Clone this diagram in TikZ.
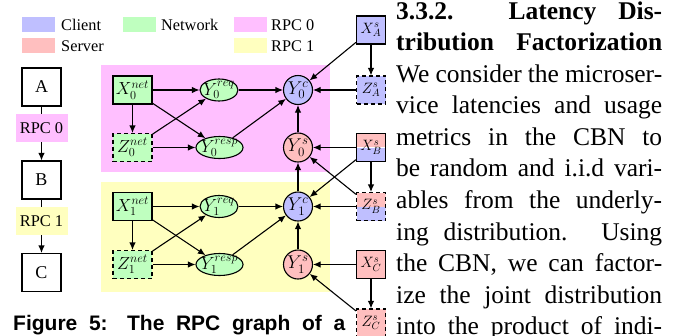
\RequirePackage{fix-cm}
\documentclass[tikz,border=0pt]{standalone}
\usepackage{fontspec}
\setmainfont{Liberation Serif}
\newfontfamily\capfont{Liberation Sans}
\usetikzlibrary{shapes.geometric,arrows.meta}
\definecolor{clicol}{HTML}{BFBFFF}
\definecolor{srvcol}{HTML}{FFBFBF}
\definecolor{netcol}{HTML}{BFFFBF}
\definecolor{rpczero}{HTML}{FFBFFF}
\definecolor{rpcone}{HTML}{FFFFBF}
\newcommand{\myfs}[1]{\fontsize{#1}{#1}\selectfont}
\begin{document}
\begin{tikzpicture}[x=1pt,y=-1pt,
  ln/.style={line width=1.1pt},
  edge/.style={ln, -{Latex[length=7.5pt,width=6.5pt]}},
  shp/.style={draw, ln, inner sep=0pt},
  mlabel/.style={font=\myfs{17.5}, inner sep=0pt},
  clabel/.style={font=\myfs{18.5}, inner sep=0pt},
  slabel/.style={font=\myfs{15}, inner sep=0pt},
  dsh/.style={dash pattern=on 4pt off 3pt},
  netbox/.style={shp, fill=netcol, minimum width=39pt, minimum height=28pt},
  ellnode/.style={shp, ellipse, fill=netcol, minimum height=22pt},
  circnode/.style={shp, circle, minimum size=29pt},
  sbox/.style={shp, minimum width=29pt, minimum height=28pt},
  chainbox/.style={shp, fill=white, minimum width=39pt, minimum height=38pt, font=\myfs{18}},
  rpclabel/.style={inner sep=0pt, minimum width=52pt, minimum height=28pt, font=\myfs{16.4}},
  swatch/.style={inner sep=0pt, minimum width=33pt, minimum height=15pt},
  legtext/.style={anchor=base west, inner sep=0pt, font=\myfs{16.3}},
  bodyline/.style={anchor=base west, inner sep=0pt, font=\myfs{25.5}},
  splitfill/.style={path picture={
    \fill[srvcol] (path picture bounding box.north west) rectangle (path picture bounding box.east);
    \fill[clicol] (path picture bounding box.west) rectangle (path picture bounding box.south east);}},
  splitline/.style={path picture={
    \fill[srvcol] (path picture bounding box.north west) rectangle (path picture bounding box.east);
    \fill[clicol] (path picture bounding box.west) rectangle (path picture bounding box.south east);
    \draw[white, line width=0.9pt] (path picture bounding box.west) -- (path picture bounding box.east);}}
]
\useasboundingbox (0,0) rectangle (688,335);

% legend
\node[swatch, fill=clicol] (lg1) at (38.5,24.5) {};
\node[legtext] (lg1t) at (61,30) {Client};
\node[swatch, fill=srvcol] (lg2) at (38.5,45.5) {};
\node[legtext] (lg2t) at (61,51) {Server};
\node[swatch, fill=netcol] (lg3) at (139.5,24.5) {};
\node[legtext] (lg3t) at (161,30) {Network};
\node[swatch, fill=rpczero] (lg4) at (250.5,24.5) {};
\node[legtext] (lg4t) at (271,30) {RPC 0};
\node[swatch, fill=rpcone] (lg5) at (250.5,45.5) {};
\node[legtext] (lg5t) at (271,51) {RPC 1};

% RPC chain
\node[chainbox] (A) at (41.5,87) {A};
\node[chainbox] (B) at (41.5,180) {B};
\node[chainbox] (C) at (41.5,272.5) {C};
\draw[edge] (A) -- node[pos=0.4, rpclabel, fill=rpczero] (rl0) {RPC 0} (B);
\draw[edge] (B) -- node[pos=0.4, rpclabel, fill=rpcone] (rl1) {RPC 1} (C);

% regions
\fill[rpczero] (101,65) rectangle (330,172);
\fill[rpcone] (101,182) rectangle (330,292);

% RPC 0 nodes
\node[netbox, label={[mlabel]center:$X_0^{net}$}] (xn0) at (132.5,90) {};
\node[netbox, dsh, label={[mlabel]center:$Z_0^{net}$}] (zn0) at (132.5,147.5) {};
\node[ellnode, minimum width=38pt, label={[mlabel]center:$Y_0^{req}$}] (yq0) at (219,90) {};
\node[ellnode, minimum width=47pt, label={[mlabel]center:$Y_0^{resp}$}] (yp0) at (219.5,147.5) {};
\node[circnode, fill=clicol, label={[clabel]center:$Y_0^{c}$}] (yc0) at (298,90) {};
\node[circnode, fill=srvcol, label={[clabel]center:$Y_0^{s}$}] (ys0) at (298,147.5) {};

% RPC 1 nodes
\node[netbox, label={[mlabel]center:$X_1^{net}$}] (xn1) at (132.5,206.5) {};
\node[netbox, dsh, label={[mlabel]center:$Z_1^{net}$}] (zn1) at (132.5,264.5) {};
\node[ellnode, minimum width=38pt, label={[mlabel]center:$Y_1^{req}$}] (yq1) at (219,206.5) {};
\node[ellnode, minimum width=47pt, label={[mlabel]center:$Y_1^{resp}$}] (yp1) at (219.5,264.5) {};
\node[circnode, fill=clicol, label={[clabel]center:$Y_1^{c}$}] (yc1) at (298,206.5) {};
\node[circnode, fill=srvcol, label={[clabel]center:$Y_1^{s}$}] (ys1) at (298,264.5) {};

% service nodes
\node[sbox, fill=clicol, label={[slabel]center:$X_A^{s}$}] (xA) at (371,30) {};
\node[sbox, dsh, fill=clicol, label={[slabel]center:$Z_A^{s}$}] (zA) at (371,90) {};
\node[sbox, splitline, label={[slabel]center:$X_B^{s}$}] (xB) at (371,147.5) {};
\node[sbox, dsh, splitfill, label={[slabel]center:$Z_B^{s}$}] (zB) at (371,206.5) {};
\node[sbox, fill=srvcol, label={[slabel]center:$X_C^{s}$}] (xC) at (371,264.5) {};
\node[sbox, dsh, fill=srvcol, label={[slabel]center:$Z_C^{s}$}] (zC) at (371,323) {};

% edges within RPCs
\foreach \i in {0,1}{
  \draw[edge] (xn\i) -- (yq\i);
  \draw[edge] (xn\i) -- (zn\i);
  \draw[edge] (xn\i) -- (yp\i);
  \draw[edge] (zn\i) -- (yq\i);
  \draw[edge] (zn\i) -- (yp\i);
  \draw[edge] (yq\i) -- (yc\i);
  \draw[edge] (yp\i) -- (yc\i);
  \draw[edge] (ys\i) -- (yc\i);
}
% service edges
\draw[edge] (xA) -- (yc0);
\draw[edge] (xA) -- (zA);
\draw[edge] (zA) -- (yc0);
\draw[edge] (xB) -- (ys0);
\draw[edge] (xB) -- (yc1);
\draw[edge] (xB) -- (zB);
\draw[edge] (zB) -- (ys0);
\draw[edge] (zB) -- (yc1);
\draw[edge] (yc1) -- (ys0);
\draw[edge] (xC) -- (ys1);
\draw[edge] (xC) -- (zC);
\draw[edge] (zC) -- (ys1);

% text column
\node[bodyline] (t1) at (396,19) {\makebox[266pt][s]{\bfseries 3.3.2. Latency Dis-}};
\node[bodyline] (t2) at (396,50.5) {\makebox[266pt][s]{\bfseries tribution Factorization}};
\node[bodyline] (t3) at (396,82) {\makebox[266pt][s]{We consider the microser-}};
\node[bodyline] (t4) at (396,113.6) {\makebox[266pt][s]{vice latencies and usage}};
\node[bodyline] (t5) at (396,145.2) {\makebox[266pt][s]{metrics in the CBN to}};
\node[bodyline] (t6) at (396,176.8) {\makebox[266pt][s]{be random and i.i.d vari-}};
\node[bodyline] (t7) at (396,208.4) {\makebox[266pt][s]{ables from the underly-}};
\node[bodyline] (t8) at (396,240) {\makebox[266pt][s]{ing distribution. Using}};
\node[bodyline] (t9) at (396,271.6) {\makebox[266pt][s]{the CBN, we can factor-}};
\node[bodyline] (t10) at (396,303.2) {\makebox[266pt][s]{ize the joint distribution}};
\node[bodyline] (t11) at (396,334.8) {\makebox[266pt][s]{into the product of indi-}};

% caption
\node[anchor=base west, inner sep=0pt, font=\capfont\bfseries\myfs{21}] (cap) at (13,330) {\makebox[332pt][s]{Figure 5: The RPC graph of a}};
\end{tikzpicture}
\end{document}
